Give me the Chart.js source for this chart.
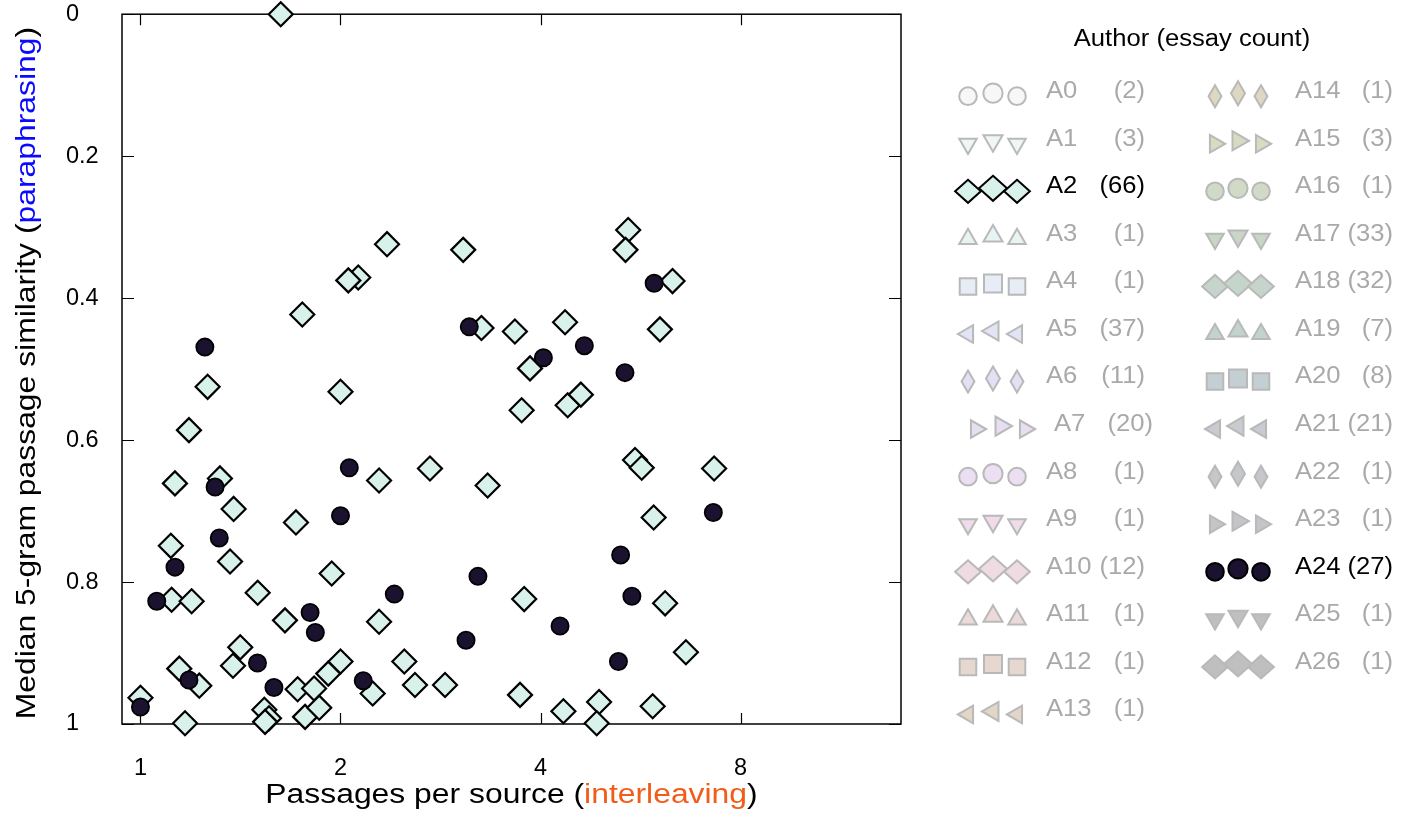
<!DOCTYPE html>
<html>
<head>
<meta charset="utf-8">
<script src="https://cdn.jsdelivr.net/npm/chart.js@4.4.1/dist/chart.umd.min.js"></script>
<style>
html,body{margin:0;padding:0;background:#fff;}
#c{display:block;}
</style>
</head>
<body>
<canvas id="c" width="1401" height="820" style="width:1401px;height:820px"></canvas>
<script>
// ---------- data ----------
const xTickValues = [1, 2, 4, 8];
const yTickValues = [0, 0.2, 0.4, 0.6, 0.8, 1];

// Author A2 (66 essays): passages per source, median 5-gram similarity
const a2X = [1.626, 2.35, 2.127, 2.055, 1.752, 5.42, 5.37, 3.06, 6.32, 3.26,
             3.66, 4.355, 6.05, 3.857, 3.747, 4.395, 4.6, 2.727, 3.33, 5.55,
             5.68, 7.3, 5.92, 3.78, 6.16, 6.62, 2.873, 3.726, 4.33, 4.9,
             4.86, 5.9, 1.262, 2.0, 1.183, 2.286, 1.127, 1.317, 1.381, 1.714,
             1.111, 1.364, 1.94, 1.114, 1.194, 1.501, 1.65, 2.286, 1.413, 1.378,
             1.144, 1.226, 1.724, 1.825, 1.917, 2.0, 2.236, 2.495, 2.589, 1.0,
             1.167, 1.536, 1.561, 1.769, 1.858, 1.54];
const a2Y = [0.000, 0.324, 0.371, 0.375, 0.423, 0.304, 0.332, 0.332, 0.376, 0.442,
             0.447, 0.434, 0.444, 0.499, 0.558, 0.551, 0.536, 0.640, 0.664, 0.628,
             0.639, 0.640, 0.709, 0.824, 0.830, 0.899, 0.945, 0.959, 0.982, 0.969,
             0.999, 0.975, 0.525, 0.532, 0.586, 0.657, 0.661, 0.654, 0.697, 0.716,
             0.749, 0.771, 0.788, 0.825, 0.827, 0.815, 0.854, 0.856, 0.892, 0.918,
             0.922, 0.946, 0.951, 0.950, 0.929, 0.912, 0.957, 0.912, 0.945, 0.963,
             0.999, 0.980, 0.992, 0.990, 0.977, 0.997];

// Author A24 (27 essays)
const a24X = [1.25, 5.93, 3.125, 4.656, 4.04, 5.36, 7.28, 5.28, 3.22, 5.49,
              4.28, 3.09, 5.24, 2.062, 1.295, 2.0, 1.314, 1.127, 2.41, 1.058,
              1.80, 1.833, 1.50, 1.183, 1.588, 2.164, 1.0];
const a24Y = [0.469, 0.379, 0.4405, 0.467, 0.484, 0.505, 0.702, 0.762, 0.792, 0.820,
              0.862, 0.882, 0.912, 0.639, 0.666, 0.7065, 0.738, 0.779, 0.817, 0.827,
              0.843, 0.871, 0.914, 0.938, 0.9485, 0.939, 0.976];

// Legend
const legendTitle = 'Author (essay count)';
const legendAuthors = ['A0','A1','A2','A3','A4','A5','A6','A7','A8','A9','A10','A11','A12','A13',
                       'A14','A15','A16','A17','A18','A19','A20','A21','A22','A23','A24','A25','A26'];
const legendCounts = [2, 3, 66, 1, 1, 37, 11, 20, 1, 1, 12, 1, 1, 1,
                      1, 3, 1, 33, 32, 7, 8, 21, 1, 1, 27, 1, 1];
const activeAuthors = ['A2', 'A24'];
const legendShapes = ['circle','triDown','diamond','triUp','square','triLeft','thinDiamond','triRight'];
const legendFills = ['#f7f7f7','#f0f6f6','#d9f1eb','#e8f3f3','#e6edf7','#e2e3f4','#e4e0f4','#e7def2',
                     '#ecdff1','#efdbe9','#eedce2','#ecdada','#e6d8d0','#e1d6c8',
                     '#dcd8c2','#d8dac2','#d0dac6','#c9d6c6','#c5d5cb','#c2d3cf','#c3cfd2','#c8cbcf',
                     '#c6c7cb','#c4c5c8','#1b1230','#bfbfbf','#bfbfbf'];

const xTitleParts = [['Passages per source (', '#000'], ['interleaving', '#f25c19'], [')', '#000']];
const yTitleParts = [['Median 5-gram passage similarity (', '#000'], ['paraphrasing', '#0a0aff'], [')', '#000']];

// ---------- styles ----------
const FONT = "'Liberation Sans', Arial, Helvetica, sans-serif";
const DIAMOND_FILL = '#d9f1eb';
const CIRCLE_FILL = '#1b1230';

function drawStretched(ctx, text, x, y, align, size, color, hs) {
  ctx.save();
  ctx.font = size + 'px ' + FONT;
  ctx.fillStyle = color;
  ctx.textBaseline = 'middle';
  ctx.textAlign = 'left';
  const w = ctx.measureText(text).width * hs;
  const x0 = align === 'left' ? x : (align === 'right' ? x - w : x - w / 2);
  ctx.translate(x0, y);
  ctx.scale(hs, 1);
  ctx.fillText(text, 0, 0);
  ctx.restore();
  return w;
}

function drawParts(ctx, parts, cx, cy, size, hs) {
  ctx.save();
  ctx.font = size + 'px ' + FONT;
  const widths = parts.map(p => ctx.measureText(p[0]).width * hs);
  const total = widths.reduce((a, b) => a + b, 0);
  let x = cx - total / 2;
  parts.forEach((p, i) => {
    drawStretched(ctx, p[0], x, cy, 'left', size, p[1], hs);
    x += widths[i];
  });
  ctx.restore();
}

function shapePath(ctx, shape, x, y, s) {
  ctx.beginPath();
  const tri = (angDeg, R) => {
    for (let k = 0; k < 3; k++) {
      const a = (angDeg + k * 120) * Math.PI / 180;
      const px = x + Math.cos(a) * R, py = y + Math.sin(a) * R;
      if (k === 0) ctx.moveTo(px, py); else ctx.lineTo(px, py);
    }
  };
  switch (shape) {
    case 'circle': ctx.arc(x, y, 9.6 * s, 0, Math.PI * 2); break;
    case 'square': ctx.rect(x - 9 * s, y - 9 * s, 18 * s, 18 * s); break;
    case 'diamond': ctx.moveTo(x, y - 12.5 * s); ctx.lineTo(x + 14 * s, y); ctx.lineTo(x, y + 12.5 * s); ctx.lineTo(x - 14 * s, y); break;
    case 'thinDiamond': ctx.moveTo(x, y - 12 * s); ctx.lineTo(x + 7 * s, y); ctx.lineTo(x, y + 12 * s); ctx.lineTo(x - 7 * s, y); break;
    case 'triUp': tri(-90, 11 * s); break;
    case 'triDown': tri(90, 11 * s); break;
    case 'triLeft': tri(180, 11 * s); break;
    case 'triRight': tri(0, 11 * s); break;
  }
  ctx.closePath();
}

const framePlugin = {
  id: 'frameTicks',
  beforeDatasetsDraw(chart) {
    const {ctx, chartArea: a, scales: {x, y}} = chart;
    ctx.save();
    ctx.strokeStyle = '#000';
    ctx.lineWidth = 1.5;
    ctx.strokeRect(a.left, a.top, a.right - a.left, a.bottom - a.top);
    ctx.lineWidth = 1.2;
    ctx.beginPath();
    xTickValues.forEach(v => {
      const px = Math.round(x.getPixelForValue(v)) + 0.5;
      ctx.moveTo(px, a.top); ctx.lineTo(px, a.top + 11);
      ctx.moveTo(px, a.bottom); ctx.lineTo(px, a.bottom - 11);
    });
    yTickValues.forEach(v => {
      const py = Math.round(y.getPixelForValue(v)) + 0.5;
      ctx.moveTo(a.left, py); ctx.lineTo(a.left + 12, py);
      ctx.moveTo(a.right, py); ctx.lineTo(a.right - 12, py);
    });
    ctx.stroke();
    ctx.restore();
  },
  afterDraw(chart) {
    const {ctx, chartArea: a} = chart;
    // axis titles
    drawParts(ctx, xTitleParts, (a.left + a.right) / 2, 796, 27, 1.18);
    ctx.save();
    ctx.translate(28, (a.top + a.bottom) / 2 + 4);
    ctx.rotate(-Math.PI / 2);
    drawParts(ctx, yTitleParts, 0, 0, 27, 1.18);
    ctx.restore();

    // legend
    drawStretched(ctx, legendTitle, 1192, 40, 'center', 23.3, '#000', 1.1);
    const cols = [
      {mx: [968, 993, 1017], lx: 1046, rx: 1145},
      {mx: [1215, 1238, 1261], lx: 1295, rx: 1393}
    ];
    legendAuthors.forEach((name, i) => {
      const col = i < 14 ? cols[0] : cols[1];
      const row = i < 14 ? i : i - 14;
      const cy = 91.7 + row * 47.56;
      const dx = name === 'A7' ? 8 : 0;
      const active = activeAuthors.includes(name);
      const shape = legendShapes[i % legendShapes.length];
      const textColor = active ? '#000' : '#a9a9a9';
      ctx.save();
      ctx.lineWidth = 2;
      ctx.strokeStyle = active ? '#000' : '#b9b9b9';
      ctx.fillStyle = legendFills[i];
      col.mx.forEach((mx, k) => {
        const my = cy + (k === 1 ? 1.5 : 4.5);
        const s = k === 1 ? 1.0 : 0.92;
        shapePath(ctx, shape, mx + dx, my, s);
        ctx.fill();
        ctx.stroke();
      });
      ctx.restore();
      drawStretched(ctx, name, col.lx + dx, cy, 'left', 23.3, textColor, 1.1);
      drawStretched(ctx, '(' + legendCounts[i] + ')', col.rx + dx, cy, 'right', 23.3, textColor, 1.1);
    });
  }
};

const ctx = document.getElementById('c').getContext('2d');
new Chart(ctx, {
  type: 'scatter',
  data: {
    datasets: [
      {
        label: 'A24',
        data: a24X.map((v, i) => ({x: v, y: a24Y[i]})),
        pointStyle: 'circle',
        pointRadius: 8.6,
        pointHoverRadius: 8.6,
        backgroundColor: CIRCLE_FILL,
        borderColor: '#000',
        borderWidth: 1.8,
        order: 0,
        clip: false
      },
      {
        label: 'A2',
        data: a2X.map((v, i) => ({x: v, y: a2Y[i]})),
        pointStyle: 'rectRot',
        pointRadius: 12,
        pointHoverRadius: 12,
        backgroundColor: DIAMOND_FILL,
        borderColor: '#000',
        borderWidth: 2.2,
        order: 1,
        clip: false
      }
    ]
  },
  options: {
    responsive: false,
    devicePixelRatio: 1,
    animation: false,
    events: [],
    layout: {padding: {left: 66, top: 12, right: 500, bottom: 0}},
    plugins: {legend: {display: false}, tooltip: {enabled: false}},
    scales: {
      x: {
        type: 'logarithmic',
        position: 'bottom',
        min: 0.938,
        max: 13.95,
        grid: {display: false, drawTicks: false},
        border: {display: false},
        afterBuildTicks: s => { s.ticks = xTickValues.map(v => ({value: v})); },
        afterFit: s => { s.height = 96; s.paddingLeft = 0; s.paddingRight = 0; },
        ticks: {
          autoSkip: false, maxRotation: 0, minRotation: 0, padding: 30,
          color: '#000', font: {family: FONT, size: 23.5},
          callback: v => String(v)
        }
      },
      y: {
        type: 'linear',
        position: 'left',
        min: 0,
        max: 1,
        reverse: true,
        grid: {display: false, drawTicks: false},
        border: {display: false},
        afterBuildTicks: s => { s.ticks = yTickValues.map(v => ({value: v})); },
        afterFit: s => { s.width = 56; s.paddingTop = 0; s.paddingBottom = 0; },
        ticks: {
          crossAlign: 'far', padding: 0,
          color: '#000', font: {family: FONT, size: 23.5},
          callback: v => String(v)
        }
      }
    }
  },
  plugins: [framePlugin]
});
</script>
</body>
</html>
